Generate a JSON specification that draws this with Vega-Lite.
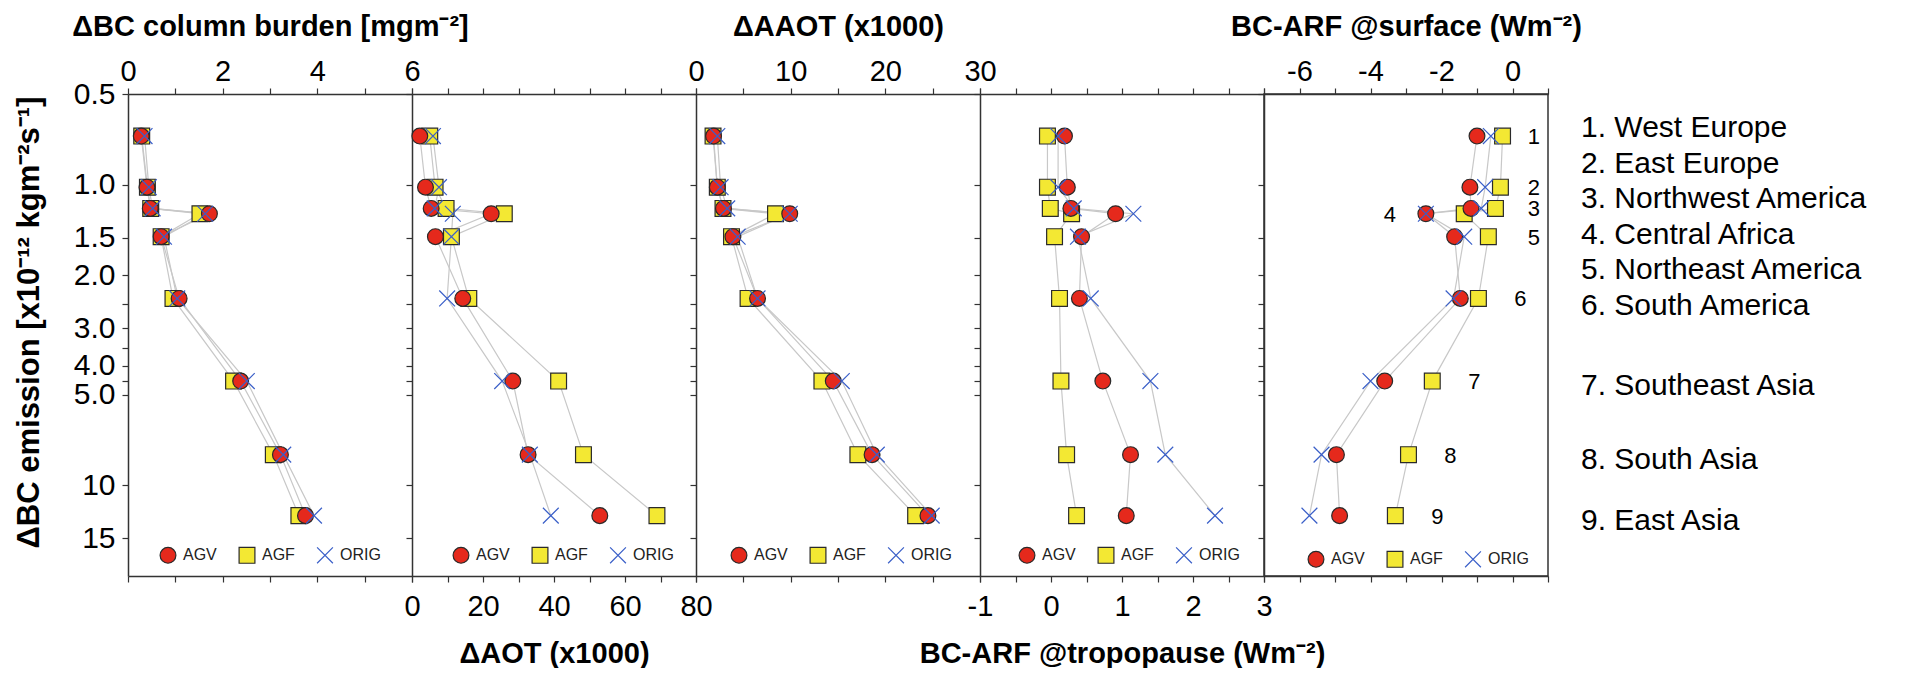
{
  "$schema": "https://vega.github.io/schema/vega-lite/v6.json",
  "background": "white",
  "padding": {"left": 13, "top": 11, "right": 5, "bottom": 0},
  "config": {
    "view": {"stroke": null},
    "font": "Liberation Sans",
    "axis": {"domainColor": "#333", "domainWidth": 1.5, "tickColor": "#333", "tickWidth": 1.2, "tickSize": 6, "labelFont": "Liberation Sans", "labelFontSize": 29, "labelColor": "#000", "titleFont": "Liberation Sans", "titleFontSize": 29, "titleFontWeight": "bold", "titleColor": "#000", "grid": false, "labelFlush": false, "labelOverlap": false, "labelBound": false},
    "axisTop": {"labelPadding": 2, "titlePadding": 16},
    "axisBottom": {"labelPadding": 10, "titlePadding": 18},
    "legend": {"labelFont": "Liberation Sans"}
  },
  "datasets": {
    "d": [
      {"region": 1, "name": "1. West Europe", "emission": 0.69, "series": "AGF", "burden": 0.29, "aot": 5.0, "aaot": 1.8, "tropo": -0.05, "surf": -0.28},
      {"region": 2, "name": "2. East Europe", "emission": 1.02, "series": "AGF", "burden": 0.41, "aot": 6.5, "aaot": 2.25, "tropo": -0.05, "surf": -0.34},
      {"region": 3, "name": "3. Northwest America", "emission": 1.2, "series": "AGF", "burden": 0.48, "aot": 9.6, "aaot": 2.85, "tropo": -0.01, "surf": -0.48},
      {"region": 4, "name": "4. Central Africa", "emission": 1.25, "series": "AGF", "burden": 1.52, "aot": 26.0, "aaot": 8.4, "tropo": 0.29, "surf": -1.36},
      {"region": 5, "name": "5. Northeast America", "emission": 1.49, "series": "AGF", "burden": 0.70, "aot": 11.1, "aaot": 3.75, "tropo": 0.05, "surf": -0.68},
      {"region": 6, "name": "6. South America", "emission": 2.39, "series": "AGF", "burden": 0.95, "aot": 16.0, "aaot": 5.5, "tropo": 0.12, "surf": -0.96},
      {"region": 7, "name": "7. Southeast Asia", "emission": 4.5, "series": "AGF", "burden": 2.23, "aot": 41.3, "aaot": 13.3, "tropo": 0.14, "surf": -2.26},
      {"region": 8, "name": "8. South Asia", "emission": 7.9, "series": "AGF", "burden": 3.07, "aot": 48.3, "aaot": 17.1, "tropo": 0.22, "surf": -2.93},
      {"region": 9, "name": "9. East Asia", "emission": 12.6, "series": "AGF", "burden": 3.61, "aot": 69.0, "aaot": 23.2, "tropo": 0.36, "surf": -3.3},
      {"region": 1, "name": "1. West Europe", "emission": 0.69, "series": "AGV", "burden": 0.28, "aot": 2.2, "aaot": 1.85, "tropo": 0.19, "surf": -1.0},
      {"region": 2, "name": "2. East Europe", "emission": 1.02, "series": "AGV", "burden": 0.40, "aot": 3.8, "aaot": 2.25, "tropo": 0.23, "surf": -1.2},
      {"region": 3, "name": "3. Northwest America", "emission": 1.2, "series": "AGV", "burden": 0.47, "aot": 5.4, "aaot": 2.9, "tropo": 0.28, "surf": -1.17},
      {"region": 4, "name": "4. Central Africa", "emission": 1.25, "series": "AGV", "burden": 1.72, "aot": 22.3, "aaot": 9.9, "tropo": 0.91, "surf": -2.44},
      {"region": 5, "name": "5. Northeast America", "emission": 1.49, "series": "AGV", "burden": 0.70, "aot": 6.6, "aaot": 3.9, "tropo": 0.43, "surf": -1.63},
      {"region": 6, "name": "6. South America", "emission": 2.39, "series": "AGV", "burden": 1.08, "aot": 14.3, "aaot": 6.5, "tropo": 0.40, "surf": -1.47},
      {"region": 7, "name": "7. Southeast Asia", "emission": 4.5, "series": "AGV", "burden": 2.38, "aot": 28.4, "aaot": 14.5, "tropo": 0.73, "surf": -3.6},
      {"region": 8, "name": "8. South Asia", "emission": 7.9, "series": "AGV", "burden": 3.22, "aot": 32.7, "aaot": 18.6, "tropo": 1.12, "surf": -4.96},
      {"region": 9, "name": "9. East Asia", "emission": 12.6, "series": "AGV", "burden": 3.75, "aot": 52.9, "aaot": 24.5, "tropo": 1.06, "surf": -4.87},
      {"region": 1, "name": "1. West Europe", "emission": 0.69, "series": "ORIG", "burden": 0.35, "aot": 5.9, "aaot": 2.25, "tropo": 0.10, "surf": -0.61},
      {"region": 2, "name": "2. East Europe", "emission": 1.02, "series": "ORIG", "burden": 0.44, "aot": 7.6, "aaot": 2.6, "tropo": 0.10, "surf": -0.77},
      {"region": 3, "name": "3. Northwest America", "emission": 1.2, "series": "ORIG", "burden": 0.52, "aot": 6.4, "aaot": 3.3, "tropo": 0.32, "surf": -0.88},
      {"region": 4, "name": "4. Central Africa", "emission": 1.25, "series": "ORIG", "burden": 1.63, "aot": 11.5, "aaot": 9.9, "tropo": 1.16, "surf": -2.44},
      {"region": 5, "name": "5. Northeast America", "emission": 1.49, "series": "ORIG", "burden": 0.76, "aot": 11.1, "aaot": 4.4, "tropo": 0.38, "surf": -1.36},
      {"region": 6, "name": "6. South America", "emission": 2.39, "series": "ORIG", "burden": 1.04, "aot": 9.9, "aaot": 6.5, "tropo": 0.56, "surf": -1.66},
      {"region": 7, "name": "7. Southeast Asia", "emission": 4.5, "series": "ORIG", "burden": 2.51, "aot": 25.4, "aaot": 15.4, "tropo": 1.40, "surf": -4.0},
      {"region": 8, "name": "8. South Asia", "emission": 7.9, "series": "ORIG", "burden": 3.28, "aot": 33.2, "aaot": 19.1, "tropo": 1.61, "surf": -5.38},
      {"region": 9, "name": "9. East Asia", "emission": 12.6, "series": "ORIG", "burden": 3.93, "aot": 39.1, "aaot": 24.9, "tropo": 2.31, "surf": -5.72}
    ]
  },
  "spacing": 0,
  "bounds": "flush",
  "resolve": {
    "scale": {"x": "independent", "y": "independent", "fill": "independent", "stroke": "independent", "shape": "independent"},
    "legend": {"fill": "independent", "stroke": "independent", "shape": "independent"}
  },
  "hconcat": [
    {
      "width": 284, "height": 482, "data": {"name": "d"},
      "layer": [
        {"mark": {"type": "line", "color": "#c8c8c8", "strokeWidth": 1.2},
         "encoding": {
           "x": {"field": "burden", "type": "quantitative", "scale": {"domain": [0, 6], "nice": false, "zero": false}, "axis": {"orient": "top", "values": [0, 1, 2, 3, 4, 5, 6], "labelExpr": "datum.value % 2 == 0 ? datum.label : ''", "title": "ΔBC column burden [mgm⁻²]"}},
           "y": {"field": "emission", "type": "quantitative", "scale": {"type": "log", "domain": [0.5, 20], "reverse": true, "nice": false}, "axis": {"orient": "left", "values": [0.5, 1, 1.5, 2, 2.5, 3, 3.5, 4, 4.5, 5, 10, 15], "labelExpr": "(datum.value == 2.5 || datum.value == 3.5 || datum.value == 4.5) ? '' : (datum.value < 10 ? format(datum.value, '.1f') : format(datum.value, 'd'))", "labelFontSize": 30, "labelPadding": 7, "title": "ΔBC emission [x10⁻¹² kgm⁻²s⁻¹]", "titleFontSize": 31, "titlePadding": 28, "titleY": 228}},
           "detail": {"field": "series"},
           "order": {"field": "region"}
         }},
        {"mark": {"type": "point", "filled": true, "size": 250, "strokeWidth": 1.2, "opacity": 1},
         "encoding": {
           "x": {"field": "burden", "type": "quantitative", "scale": {"domain": [0, 6], "nice": false, "zero": false}, "axis": {"orient": "bottom", "values": [0, 1, 2, 3, 4, 5, 6], "labels": false, "title": null}},
           "y": {"field": "emission", "type": "quantitative", "scale": {"type": "log", "domain": [0.5, 20], "reverse": true, "nice": false}, "axis": {"orient": "left", "values": [0.5, 1, 1.5, 2, 2.5, 3, 3.5, 4, 4.5, 5, 10, 15], "labelExpr": "(datum.value == 2.5 || datum.value == 3.5 || datum.value == 4.5) ? '' : (datum.value < 10 ? format(datum.value, '.1f') : format(datum.value, 'd'))", "labelFontSize": 30, "labelPadding": 7, "title": "ΔBC emission [x10⁻¹² kgm⁻²s⁻¹]", "titleFontSize": 31, "titlePadding": 28, "titleY": 228}},
           "fill": {"field": "series", "type": "nominal", "scale": {"domain": ["AGV", "AGF", "ORIG"], "range": ["#e5291c", "#f3e833", "transparent"]}, "legend": {"orient": "none", "legendX": 31, "legendY": 452, "direction": "horizontal", "title": null, "labelFontSize": 16, "labelColor": "#222", "symbolSize": 250, "symbolStrokeWidth": 1.2, "columnPadding": 19, "labelOffset": 6, "padding": 0}},
           "stroke": {"field": "series", "type": "nominal", "scale": {"domain": ["AGV", "AGF", "ORIG"], "range": ["#2a2a2a", "#2a2a2a", "#3a5fc8"]}, "legend": {"orient": "none", "legendX": 31, "legendY": 452, "direction": "horizontal", "title": null, "labelFontSize": 16, "labelColor": "#222", "symbolSize": 250, "symbolStrokeWidth": 1.2, "columnPadding": 19, "labelOffset": 6, "padding": 0}},
           "shape": {"field": "series", "type": "nominal", "scale": {"domain": ["AGV", "AGF", "ORIG"], "range": ["circle", "square", "M-1,-1L1,1M-1,1L1,-1"]}, "legend": {"orient": "none", "legendX": 31, "legendY": 452, "direction": "horizontal", "title": null, "labelFontSize": 16, "labelColor": "#222", "symbolSize": 250, "symbolStrokeWidth": 1.2, "columnPadding": 19, "labelOffset": 6, "padding": 0}}
         }}
      ]
    },
    {
      "width": 284, "height": 482, "data": {"name": "d"},
      "layer": [
        {"mark": {"type": "line", "color": "#c8c8c8", "strokeWidth": 1.2},
         "encoding": {
           "x": {"field": "aot", "type": "quantitative", "scale": {"domain": [0, 80], "nice": false, "zero": false}, "axis": {"orient": "top", "values": [0, 10, 20, 30, 40, 50, 60, 70, 80], "labels": false, "title": null}},
           "y": {"field": "emission", "type": "quantitative", "scale": {"type": "log", "domain": [0.5, 20], "reverse": true, "nice": false}, "axis": {"orient": "left", "values": [0.5, 1, 1.5, 2, 2.5, 3, 3.5, 4, 4.5, 5, 10, 15], "labels": false, "title": null}},
           "detail": {"field": "series"},
           "order": {"field": "region"}
         }},
        {"mark": {"type": "point", "filled": true, "size": 250, "strokeWidth": 1.2, "opacity": 1},
         "encoding": {
           "x": {"field": "aot", "type": "quantitative", "scale": {"domain": [0, 80], "nice": false, "zero": false}, "axis": {"orient": "bottom", "values": [0, 10, 20, 30, 40, 50, 60, 70, 80], "labelExpr": "datum.value % 20 == 0 ? datum.label : ''", "title": "ΔAOT (x1000)"}},
           "y": {"field": "emission", "type": "quantitative", "scale": {"type": "log", "domain": [0.5, 20], "reverse": true, "nice": false}, "axis": {"orient": "left", "values": [0.5, 1, 1.5, 2, 2.5, 3, 3.5, 4, 4.5, 5, 10, 15], "labels": false, "title": null}},
           "fill": {"field": "series", "type": "nominal", "scale": {"domain": ["AGV", "AGF", "ORIG"], "range": ["#e5291c", "#f3e833", "transparent"]}, "legend": {"orient": "none", "legendX": 40, "legendY": 452, "direction": "horizontal", "title": null, "labelFontSize": 16, "labelColor": "#222", "symbolSize": 250, "symbolStrokeWidth": 1.2, "columnPadding": 19, "labelOffset": 6, "padding": 0}},
           "stroke": {"field": "series", "type": "nominal", "scale": {"domain": ["AGV", "AGF", "ORIG"], "range": ["#2a2a2a", "#2a2a2a", "#3a5fc8"]}, "legend": {"orient": "none", "legendX": 40, "legendY": 452, "direction": "horizontal", "title": null, "labelFontSize": 16, "labelColor": "#222", "symbolSize": 250, "symbolStrokeWidth": 1.2, "columnPadding": 19, "labelOffset": 6, "padding": 0}},
           "shape": {"field": "series", "type": "nominal", "scale": {"domain": ["AGV", "AGF", "ORIG"], "range": ["circle", "square", "M-1,-1L1,1M-1,1L1,-1"]}, "legend": {"orient": "none", "legendX": 40, "legendY": 452, "direction": "horizontal", "title": null, "labelFontSize": 16, "labelColor": "#222", "symbolSize": 250, "symbolStrokeWidth": 1.2, "columnPadding": 19, "labelOffset": 6, "padding": 0}}
         }}
      ]
    },
    {
      "width": 284, "height": 482, "data": {"name": "d"},
      "layer": [
        {"mark": {"type": "line", "color": "#c8c8c8", "strokeWidth": 1.2},
         "encoding": {
           "x": {"field": "aaot", "type": "quantitative", "scale": {"domain": [0, 30], "nice": false, "zero": false}, "axis": {"orient": "top", "values": [0, 5, 10, 15, 20, 25, 30], "labelExpr": "datum.value % 10 == 0 ? datum.label : ''", "title": "ΔAAOT (x1000)"}},
           "y": {"field": "emission", "type": "quantitative", "scale": {"type": "log", "domain": [0.5, 20], "reverse": true, "nice": false}, "axis": {"orient": "left", "values": [0.5, 1, 1.5, 2, 2.5, 3, 3.5, 4, 4.5, 5, 10, 15], "labels": false, "title": null}},
           "detail": {"field": "series"},
           "order": {"field": "region"}
         }},
        {"mark": {"type": "point", "filled": true, "size": 250, "strokeWidth": 1.2, "opacity": 1},
         "encoding": {
           "x": {"field": "aaot", "type": "quantitative", "scale": {"domain": [0, 30], "nice": false, "zero": false}, "axis": {"orient": "bottom", "values": [0, 5, 10, 15, 20, 25, 30], "labels": false, "title": null}},
           "y": {"field": "emission", "type": "quantitative", "scale": {"type": "log", "domain": [0.5, 20], "reverse": true, "nice": false}, "axis": {"orient": "left", "values": [0.5, 1, 1.5, 2, 2.5, 3, 3.5, 4, 4.5, 5, 10, 15], "labels": false, "title": null}},
           "fill": {"field": "series", "type": "nominal", "scale": {"domain": ["AGV", "AGF", "ORIG"], "range": ["#e5291c", "#f3e833", "transparent"]}, "legend": {"orient": "none", "legendX": 34, "legendY": 452, "direction": "horizontal", "title": null, "labelFontSize": 16, "labelColor": "#222", "symbolSize": 250, "symbolStrokeWidth": 1.2, "columnPadding": 19, "labelOffset": 6, "padding": 0}},
           "stroke": {"field": "series", "type": "nominal", "scale": {"domain": ["AGV", "AGF", "ORIG"], "range": ["#2a2a2a", "#2a2a2a", "#3a5fc8"]}, "legend": {"orient": "none", "legendX": 34, "legendY": 452, "direction": "horizontal", "title": null, "labelFontSize": 16, "labelColor": "#222", "symbolSize": 250, "symbolStrokeWidth": 1.2, "columnPadding": 19, "labelOffset": 6, "padding": 0}},
           "shape": {"field": "series", "type": "nominal", "scale": {"domain": ["AGV", "AGF", "ORIG"], "range": ["circle", "square", "M-1,-1L1,1M-1,1L1,-1"]}, "legend": {"orient": "none", "legendX": 34, "legendY": 452, "direction": "horizontal", "title": null, "labelFontSize": 16, "labelColor": "#222", "symbolSize": 250, "symbolStrokeWidth": 1.2, "columnPadding": 19, "labelOffset": 6, "padding": 0}}
         }}
      ]
    },
    {
      "width": 284, "height": 482, "data": {"name": "d"},
      "layer": [
        {"mark": {"type": "line", "color": "#c8c8c8", "strokeWidth": 1.2},
         "encoding": {
           "x": {"field": "tropo", "type": "quantitative", "scale": {"domain": [-1, 3], "nice": false, "zero": false}, "axis": {"orient": "top", "values": [-1, -0.5, 0, 0.5, 1, 1.5, 2, 2.5, 3], "labels": false, "title": null}},
           "y": {"field": "emission", "type": "quantitative", "scale": {"type": "log", "domain": [0.5, 20], "reverse": true, "nice": false}, "axis": {"orient": "left", "values": [0.5, 1, 1.5, 2, 2.5, 3, 3.5, 4, 4.5, 5, 10, 15], "labels": false, "title": null}},
           "detail": {"field": "series"},
           "order": {"field": "region"}
         }},
        {"mark": {"type": "point", "filled": true, "size": 250, "strokeWidth": 1.2, "opacity": 1},
         "encoding": {
           "x": {"field": "tropo", "type": "quantitative", "scale": {"domain": [-1, 3], "nice": false, "zero": false}, "axis": {"orient": "bottom", "values": [-1, -0.5, 0, 0.5, 1, 1.5, 2, 2.5, 3], "labelExpr": "datum.value % 1 == 0 ? '' + datum.value : ''", "title": "BC-ARF @tropopause (Wm⁻²)"}},
           "y": {"field": "emission", "type": "quantitative", "scale": {"type": "log", "domain": [0.5, 20], "reverse": true, "nice": false}, "axis": {"orient": "left", "values": [0.5, 1, 1.5, 2, 2.5, 3, 3.5, 4, 4.5, 5, 10, 15], "labels": false, "title": null}},
           "fill": {"field": "series", "type": "nominal", "scale": {"domain": ["AGV", "AGF", "ORIG"], "range": ["#e5291c", "#f3e833", "transparent"]}, "legend": {"orient": "none", "legendX": 38, "legendY": 452, "direction": "horizontal", "title": null, "labelFontSize": 16, "labelColor": "#222", "symbolSize": 250, "symbolStrokeWidth": 1.2, "columnPadding": 19, "labelOffset": 6, "padding": 0}},
           "stroke": {"field": "series", "type": "nominal", "scale": {"domain": ["AGV", "AGF", "ORIG"], "range": ["#2a2a2a", "#2a2a2a", "#3a5fc8"]}, "legend": {"orient": "none", "legendX": 38, "legendY": 452, "direction": "horizontal", "title": null, "labelFontSize": 16, "labelColor": "#222", "symbolSize": 250, "symbolStrokeWidth": 1.2, "columnPadding": 19, "labelOffset": 6, "padding": 0}},
           "shape": {"field": "series", "type": "nominal", "scale": {"domain": ["AGV", "AGF", "ORIG"], "range": ["circle", "square", "M-1,-1L1,1M-1,1L1,-1"]}, "legend": {"orient": "none", "legendX": 38, "legendY": 452, "direction": "horizontal", "title": null, "labelFontSize": 16, "labelColor": "#222", "symbolSize": 250, "symbolStrokeWidth": 1.2, "columnPadding": 19, "labelOffset": 6, "padding": 0}}
         }}
      ]
    },
    {
      "width": 284, "height": 482, "data": {"name": "d"},
      "view": {"stroke": "#333", "strokeWidth": 1.5},
      "resolve": {"scale": {"y": "independent"}},
      "layer": [
        {"layer": [
          {"mark": {"type": "line", "color": "#c8c8c8", "strokeWidth": 1.2},
           "encoding": {
             "x": {"field": "surf", "type": "quantitative", "scale": {"domain": [-7, 1], "nice": false, "zero": false}, "axis": {"orient": "top", "values": [-7, -6, -5, -4, -3, -2, -1, 0, 1], "labelExpr": "(datum.value % 2 == 0) ? '' + datum.value : ''", "title": "BC-ARF @surface (Wm⁻²)"}},
             "y": {"field": "emission", "type": "quantitative", "scale": {"type": "log", "domain": [0.5, 20], "reverse": true, "nice": false}, "axis": {"orient": "left", "values": [0.5, 1, 1.5, 2, 2.5, 3, 3.5, 4, 4.5, 5, 10, 15], "labels": false, "title": null}},
             "detail": {"field": "series"},
             "order": {"field": "region"}
           }},
          {"mark": {"type": "point", "filled": true, "size": 250, "strokeWidth": 1.2, "opacity": 1},
           "encoding": {
             "x": {"field": "surf", "type": "quantitative", "scale": {"domain": [-7, 1], "nice": false, "zero": false}, "axis": {"orient": "bottom", "values": [-7, -6, -5, -4, -3, -2, -1, 0, 1], "labels": false, "title": null}},
             "y": {"field": "emission", "type": "quantitative", "scale": {"type": "log", "domain": [0.5, 20], "reverse": true, "nice": false}, "axis": {"orient": "left", "values": [0.5, 1, 1.5, 2, 2.5, 3, 3.5, 4, 4.5, 5, 10, 15], "labels": false, "title": null}},
             "fill": {"field": "series", "type": "nominal", "scale": {"domain": ["AGV", "AGF", "ORIG"], "range": ["#e5291c", "#f3e833", "transparent"]}, "legend": {"orient": "none", "legendX": 43, "legendY": 456, "direction": "horizontal", "title": null, "labelFontSize": 16, "labelColor": "#222", "symbolSize": 250, "symbolStrokeWidth": 1.2, "columnPadding": 19, "labelOffset": 6, "padding": 0}},
             "stroke": {"field": "series", "type": "nominal", "scale": {"domain": ["AGV", "AGF", "ORIG"], "range": ["#2a2a2a", "#2a2a2a", "#3a5fc8"]}, "legend": {"orient": "none", "legendX": 43, "legendY": 456, "direction": "horizontal", "title": null, "labelFontSize": 16, "labelColor": "#222", "symbolSize": 250, "symbolStrokeWidth": 1.2, "columnPadding": 19, "labelOffset": 6, "padding": 0}},
             "shape": {"field": "series", "type": "nominal", "scale": {"domain": ["AGV", "AGF", "ORIG"], "range": ["circle", "square", "M-1,-1L1,1M-1,1L1,-1"]}, "legend": {"orient": "none", "legendX": 43, "legendY": 456, "direction": "horizontal", "title": null, "labelFontSize": 16, "labelColor": "#222", "symbolSize": 250, "symbolStrokeWidth": 1.2, "columnPadding": 19, "labelOffset": 6, "padding": 0}}
           }},
          {"transform": [{"filter": "datum.series == 'AGF' && datum.region >= 6"}],
           "mark": {"type": "text", "fontSize": 22, "color": "#000", "dx": 42, "dy": 1, "align": "center", "baseline": "middle"},
           "encoding": {
             "x": {"field": "surf", "type": "quantitative", "scale": {"domain": [-7, 1], "nice": false, "zero": false}, "axis": null},
             "y": {"field": "emission", "type": "quantitative", "scale": {"type": "log", "domain": [0.5, 20], "reverse": true, "nice": false}, "axis": {"orient": "left", "values": [0.5, 1, 1.5, 2, 2.5, 3, 3.5, 4, 4.5, 5, 10, 15], "labels": false, "title": null}},
             "text": {"field": "region", "type": "nominal"}
           }},
          {"transform": [{"filter": "datum.series == 'AGF' && (datum.region <= 3 || datum.region == 5)"}],
           "mark": {"type": "text", "fontSize": 22, "color": "#000", "dy": 1, "align": "center", "baseline": "middle"},
           "encoding": {
             "x": {"datum": 0.6, "type": "quantitative", "scale": {"domain": [-7, 1], "nice": false, "zero": false}, "axis": null},
             "y": {"field": "emission", "type": "quantitative", "scale": {"type": "log", "domain": [0.5, 20], "reverse": true, "nice": false}, "axis": {"orient": "left", "values": [0.5, 1, 1.5, 2, 2.5, 3, 3.5, 4, 4.5, 5, 10, 15], "labels": false, "title": null}},
             "text": {"field": "region", "type": "nominal"}
           }},
          {"transform": [{"filter": "datum.series == 'AGV' && datum.region == 4"}],
           "mark": {"type": "text", "fontSize": 22, "color": "#000", "dx": -36, "dy": 1, "align": "center", "baseline": "middle"},
           "encoding": {
             "x": {"field": "surf", "type": "quantitative", "scale": {"domain": [-7, 1], "nice": false, "zero": false}, "axis": null},
             "y": {"field": "emission", "type": "quantitative", "scale": {"type": "log", "domain": [0.5, 20], "reverse": true, "nice": false}, "axis": {"orient": "left", "values": [0.5, 1, 1.5, 2, 2.5, 3, 3.5, 4, 4.5, 5, 10, 15], "labels": false, "title": null}},
             "text": {"field": "region", "type": "nominal"}
           }},
          {"transform": [{"filter": "datum.series == 'AGF' && datum.region >= 7"}],
           "mark": {"type": "text", "fontSize": 30, "color": "#000", "dx": 33, "dy": 5, "align": "left", "baseline": "middle"},
           "encoding": {
             "x": {"datum": 1, "type": "quantitative", "scale": {"domain": [-7, 1], "nice": false, "zero": false}, "axis": null},
             "y": {"field": "emission", "type": "quantitative", "scale": {"type": "log", "domain": [0.5, 20], "reverse": true, "nice": false}, "axis": {"orient": "left", "values": [0.5, 1, 1.5, 2, 2.5, 3, 3.5, 4, 4.5, 5, 10, 15], "labels": false, "title": null}},
             "text": {"field": "name", "type": "nominal"}
           }}
        ]},
        {"transform": [{"filter": "datum.series == 'AGF' && datum.region <= 6"}],
         "mark": {"type": "text", "fontSize": 30, "color": "#000", "dx": 33, "dy": 6, "align": "left", "baseline": "middle"},
         "encoding": {
           "x": {"datum": 1, "type": "quantitative", "scale": {"domain": [-7, 1], "nice": false, "zero": false}, "axis": null},
           "y": {"field": "name", "type": "nominal", "scale": {"type": "point", "padding": 0, "domain": ["1. West Europe", "2. East Europe", "3. Northwest America", "4. Central Africa", "5. Northeast America", "6. South America"], "range": [28, 206]}, "axis": null},
           "text": {"field": "name", "type": "nominal"}
         }}
      ]
    }
  ]
}
